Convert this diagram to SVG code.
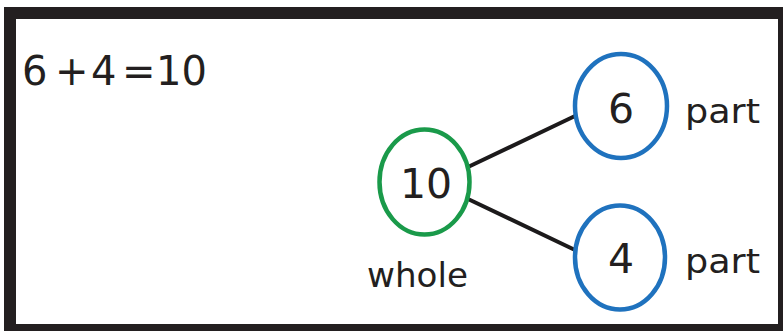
<svg xmlns="http://www.w3.org/2000/svg" width="783" height="331" viewBox="0 0 783 331">
<style>
.t{font-family:"DejaVu Sans","Liberation Sans",sans-serif;fill:#231f20}
.num{font-size:41px;text-anchor:middle}
.lbl{font-size:34px}
.c{fill:#fff;stroke-width:4.5}
</style>
<rect x="0" y="0" width="783" height="331" fill="#fff"/>
<rect x="4" y="7" width="779" height="324" fill="#231f20"/>
<rect x="16" y="19" width="762" height="305" fill="#fff"/>
<text class="t" font-size="40" y="85"><tspan x="22">6</tspan> <tspan x="55">+</tspan> <tspan x="91">4</tspan> <tspan x="122">=</tspan> <tspan x="156">10</tspan></text>
<g id="connectors" stroke="#1c1a1b" stroke-width="4" stroke-linecap="round">
<line x1="468" y1="167" x2="575" y2="116"/>
<line x1="468" y1="199" x2="575" y2="250"/>
</g>
<g id="whole">
<ellipse class="c" cx="424.5" cy="182" rx="45" ry="52.5" stroke="#1a9a4a" stroke-width="5"/>
<text class="t num" x="426" y="198">10</text>
<text class="t lbl" x="367" y="287" textLength="101" lengthAdjust="spacingAndGlyphs">whole</text>
</g>
<g id="part1">
<ellipse class="c" cx="621" cy="106" rx="46" ry="52" stroke="#1f72be"/>
<text class="t num" x="621" y="123">6</text>
<text class="t lbl" x="685" y="123" textLength="75" lengthAdjust="spacingAndGlyphs">part</text>
</g>
<g id="part2">
<ellipse class="c" cx="620" cy="257.5" rx="45" ry="52" stroke="#1f72be"/>
<text class="t num" x="621" y="273">4</text>
<text class="t lbl" x="685" y="273" textLength="75" lengthAdjust="spacingAndGlyphs">part</text>
</g>
</svg>
